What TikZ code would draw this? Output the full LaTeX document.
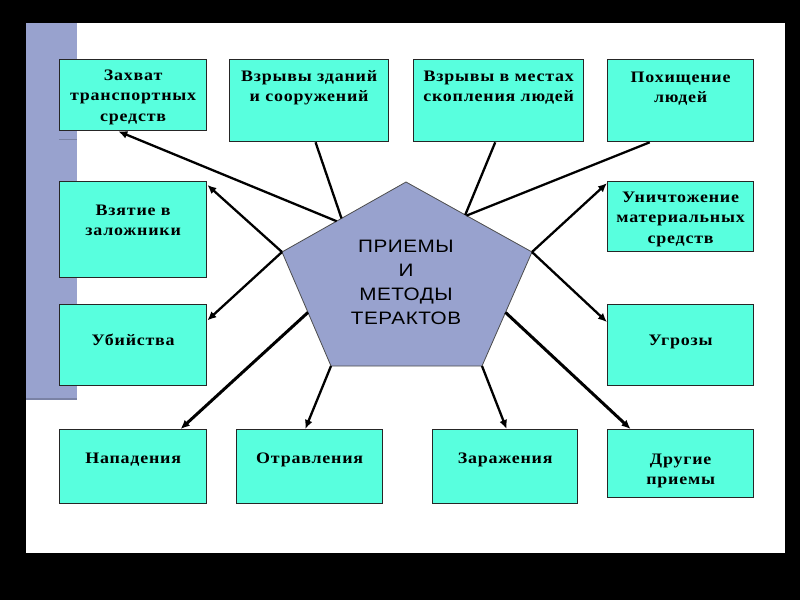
\documentclass[tikz,border=0pt]{standalone}
\usepackage{fontspec}
\newfontfamily\boxfont[FakeStretch=1.12,LetterSpace=5]{Liberation Serif}
\newfontfamily\pentfont[FakeStretch=1.15,LetterSpace=3]{Liberation Sans}
\usetikzlibrary{calc,arrows.meta}
\definecolor{aquabox}{RGB}{88,255,222}
\definecolor{slatebg}{RGB}{152,162,206}
\begin{document}
\begin{tikzpicture}[x=1pt,y=-1pt,
  box/.style={draw=black!85,line width=1.3pt,fill=aquabox,anchor=north west,inner sep=0pt},
  boxtxt/.style={anchor=base,align=center,inner sep=0pt,font=\boxfont\bfseries\fontsize{16}{20.5}\selectfont},
  link/.style={line width=2.3pt},
  arr/.style={link,-{Latex[length=9pt,width=8pt]}}]
  \useasboundingbox (0,0) rectangle (800,600);
  \fill[black] (0,0) rectangle (800,600);
  \fill[white] (26,23) rectangle (785,553);
  \fill[slatebg] (26,23) rectangle (77,400);
  \draw[slatebg!80!black,line width=1.5pt] (26,399) -- (77,399);
  \draw[slatebg!80!black,line width=1pt] (59,139) -- (77,139);
  % pentagon
  \coordinate (pt) at (406,182);
  \coordinate (pl) at (282,252);
  \coordinate (pr) at (532,252);
  \coordinate (pbl) at (331,366);
  \coordinate (pbr) at (482,366);
  \filldraw[fill=slatebg,draw=black!70,line width=0.8pt] (pt) -- (pr) -- (pbr) -- (pbl) -- (pl) -- cycle;
  \node[anchor=base,align=center,inner sep=0pt,font=\pentfont\fontsize{18}{23.7}\selectfont] (center) at (406,324) {ПРИЕМЫ\\И\\МЕТОДЫ\\ТЕРАКТОВ};
  % boxes
  \node[box,minimum width=147pt,minimum height=71pt] (zahvat) at (59,59) {};
  \node[box,minimum width=159pt,minimum height=82pt] (vzryvy) at (229,59) {};
  \node[box,minimum width=170pt,minimum height=82pt] (skoplenie) at (413,59) {};
  \node[box,minimum width=146pt,minimum height=82pt] (pohish) at (607,59) {};
  \node[box,minimum width=147pt,minimum height=96pt] (vzyatie) at (59,181) {};
  \node[box,minimum width=146pt,minimum height=70pt] (unichtozh) at (607,181) {};
  \node[box,minimum width=147pt,minimum height=81pt] (ubiystva) at (59,304) {};
  \node[box,minimum width=146pt,minimum height=81pt] (ugrozy) at (607,304) {};
  \node[box,minimum width=147pt,minimum height=74pt] (napadenie) at (59,429) {};
  \node[box,minimum width=146pt,minimum height=74pt] (otravl) at (236,429) {};
  \node[box,minimum width=145pt,minimum height=74pt] (zarazh) at (432,429) {};
  \node[box,minimum width=146pt,minimum height=68pt] (drugie) at (607,429) {};
  % labels (anchor = baseline of the last line)
  \node[boxtxt] (zahvat-t) at ($(zahvat.north)+(0,62)$) {Захват\\транспортных\\средств};
  \node[boxtxt] (vzryvy-t) at ($(vzryvy.north)+(0,42.5)$) {Взрывы зданий\\и сооружений};
  \node[boxtxt] (skoplenie-t) at ($(skoplenie.north)+(0,42.5)$) {Взрывы в местах\\скопления людей};
  \node[boxtxt] (pohish-t) at ($(pohish.north)+(0,43.5)$) {Похищение\\людей};
  \node[boxtxt] (vzyatie-t) at ($(vzyatie.north)+(0,54.5)$) {Взятие в\\заложники};
  \node[boxtxt] (unichtozh-t) at ($(unichtozh.north)+(0,62)$) {Уничтожение\\материальных\\средств};
  \node[boxtxt] (ubiystva-t) at ($(ubiystva.north)+(0,41)$) {Убийства};
  \node[boxtxt] (ugrozy-t) at ($(ugrozy.north)+(0,41)$) {Угрозы};
  \node[boxtxt] (napadenie-t) at ($(napadenie.north)+(0,34)$) {Нападения};
  \node[boxtxt] (otravl-t) at ($(otravl.north)+(0,34)$) {Отравления};
  \node[boxtxt] (zarazh-t) at ($(zarazh.north)+(0,34)$) {Заражения};
  \node[boxtxt] (drugie-t) at ($(drugie.north)+(0,55.5)$) {Другие\\приемы};
  % connectors
  \draw[arr] ($(pl)!0.44!(pt)$) -- ($(zahvat.south west)!0.4!(zahvat.south east)$);
  \draw[link] ($(vzryvy.south west)!0.54!(vzryvy.south east)$) -- ($(pl)!0.48!(pt)$);
  \draw[link] ($(skoplenie.south west)!0.48!(skoplenie.south east)$) -- ($(pt)!0.47!(pr)$);
  \draw[link] ($(pohish.south west)!0.29!(pohish.south east)$) -- ($(pt)!0.48!(pr)$);
  \draw[arr] (pl) -- ($(vzyatie.north east)!0.04!(vzyatie.south east)$);
  \draw[arr] (pl) -- ($(ubiystva.north east)!0.2!(ubiystva.south east)$);
  \draw[arr,line width=3pt] ($(pl)!0.53!(pbl)$) -- ($(napadenie.north west)!0.82!(napadenie.north east)$);
  \draw[arr] (pbl) -- ($(otravl.north west)!0.47!(otravl.north east)$);
  \draw[arr] (pbr) -- ($(zarazh.north west)!0.51!(zarazh.north east)$);
  \draw[arr,line width=3pt] ($(pr)!0.53!(pbr)$) -- ($(drugie.north west)!0.16!(drugie.north east)$);
  \draw[arr] (pr) -- ($(ugrozy.north west)!0.22!(ugrozy.south west)$);
  \draw[arr] (pr) -- ($(unichtozh.north west)!0.03!(unichtozh.south west)$);
\end{tikzpicture}
\end{document}
